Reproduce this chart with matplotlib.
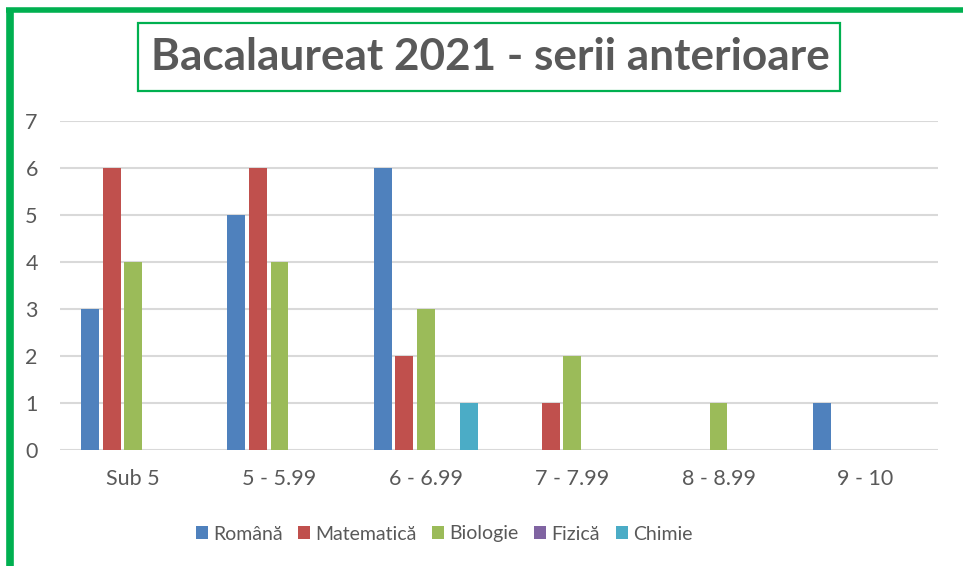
import numpy as np
import matplotlib.pyplot as plt
from matplotlib.patches import Rectangle
from matplotlib.lines import Line2D

plt.rcParams['font.family'] = ['Lato', 'DejaVu Sans']

# date
categorii = ['Sub 5', '5 - 5.99', '6 - 6.99', '7 - 7.99', '8 - 8.99', '9 - 10']
serii = ['Română', 'Matematică', 'Biologie', 'Fizică', 'Chimie']
romana = [3, 5, 6, 0, 0, 1]
matematica = [6, 6, 2, 1, 0, 0]
biologie = [4, 4, 3, 2, 1, 0]
fizica = [0, 0, 0, 0, 0, 0]
chimie = [0, 0, 1, 0, 0, 0]
valori = [romana, matematica, biologie, fizica, chimie]
culori = ['#4f81bd', '#c0504d', '#9bbb59', '#8064a2', '#4bacc6']

W, H = 963, 566
fig = plt.figure(figsize=(W / 100, H / 100), dpi=100)
ax = fig.add_axes([60 / W, 116 / H, 878 / W, 329 / H])

x = np.arange(len(categorii))
slot = 0.148
latime = 0.123
for i, (nume, v, c) in enumerate(zip(serii, valori, culori)):
    ax.bar(x + (i - 2) * slot, v, width=latime, color=c, label=nume, zorder=3)

ax.set_xlim(-0.5, len(categorii) - 0.5)
ax.set_ylim(0, 7)
ax.set_yticks(range(0, 8))
ax.yaxis.grid(True, color='#d9d9d9', linewidth=1.5, zorder=0)
for s in ax.spines.values():
    s.set_visible(False)
ax.tick_params(length=0, colors='#595959', labelsize=15.5)
ax.tick_params(axis='y', pad=16)
ax.tick_params(axis='x', pad=14)
ax.set_xticks(x)
ax.set_xticklabels(categorii)

leg = fig.legend(loc='center', bbox_to_anchor=(444 / W, 1 - 534 / H), ncol=5,
                 frameon=False, fontsize=14, handlelength=0.62, handleheight=0.62,
                 handletextpad=0.27, columnspacing=0.8, labelcolor='#595959')

# titlu in chenar verde
fig.patches.append(Rectangle((138 / W, 1 - 91 / H), 702 / W, 68 / H, transform=fig.transFigure,
                             fill=False, edgecolor='#00b050', linewidth=1.6))
fig.text(490 / W, 1 - 57 / H, 'Bacalaureat 2021 - serii anterioare', ha='center', va='center',
         fontsize=31.8, fontweight='bold', color='#595959')

# cadru verde
fig.lines.append(Line2D([9.5 / W, 9.5 / W], [0, 1 - 9.5 / H], transform=fig.transFigure,
                        color='#00b050', linewidth=5.5, solid_capstyle='butt'))
fig.lines.append(Line2D([6 / W, 1], [1 - 9.5 / H, 1 - 9.5 / H], transform=fig.transFigure,
                        color='#00b050', linewidth=4, solid_capstyle='butt'))

fig.savefig('out.png', dpi=100)
